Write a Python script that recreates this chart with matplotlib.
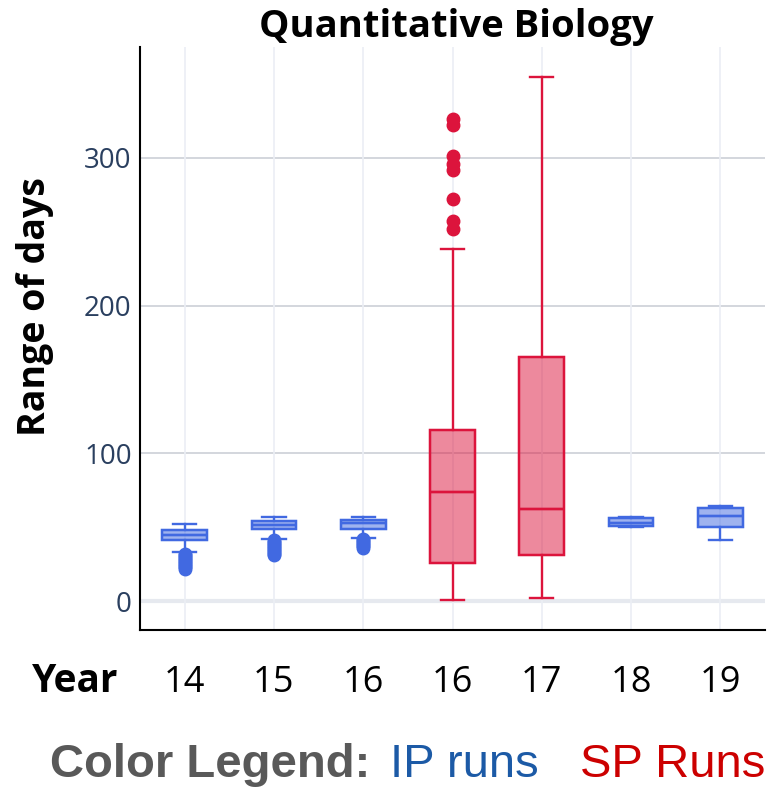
import matplotlib.pyplot as plt

# box statistics (days)
labels = ["14", "15", "16", "16", "17", "18", "19"]
run_type = ["IP", "IP", "IP", "SP", "SP", "IP", "IP"]
whislo = [33, 42, 43, 1, 2, 50, 41]
q1 = [41, 49, 49, 26, 31, 51, 50]
med = [44.7, 51.5, 52.5, 74, 62, 53, 57.5]
q3 = [48, 54, 55, 116, 165, 56, 63]
whishi = [52, 57, 57, 238, 355, 57, 64]
fliers = [
    [22, 23, 24, 25, 26, 27, 28, 29, 30, 31, 32],
    [31, 32, 33, 34, 35, 36, 37, 38, 39, 40, 41],
    [36, 37, 38, 39, 40, 41, 42],
    [252, 257, 272, 292, 296, 301, 322, 326],
    [],
    [],
    [],
]

blue = "#4169e1"
red = "#dc143c"

stats = []
for i in range(len(labels)):
    stats.append(dict(whislo=whislo[i], q1=q1[i], med=med[i], q3=q3[i],
                      whishi=whishi[i], fliers=fliers[i], label=labels[i]))

fig = plt.figure(figsize=(7.71, 7.88), dpi=100)
ax = fig.add_axes([140 / 771, 1 - 630 / 788, 625 / 771, (630 - 47) / 788])

positions = list(range(len(labels)))
for i, st in enumerate(stats):
    c = blue if run_type[i] == "IP" else red
    ax.bxp([st], positions=[positions[i]], widths=0.5, patch_artist=True,
           showfliers=True, capwidths=0.26,
           boxprops=dict(facecolor=c, alpha=0.5, edgecolor=c, linewidth=1.7),
           medianprops=dict(color=c, linewidth=1.7),
           whiskerprops=dict(color=c, linewidth=1.7),
           capprops=dict(color=c, linewidth=1.7),
           flierprops=dict(marker="o", markerfacecolor=c, markeredgecolor=c,
                           markersize=9))
    # opaque edge on top of translucent fill
    ax.bxp([st], positions=[positions[i]], widths=0.5, patch_artist=True,
           showfliers=False, showcaps=False,
           boxprops=dict(facecolor="none", edgecolor=c, linewidth=1.7),
           medianprops=dict(color=c, linewidth=1.7),
           whiskerprops=dict(linewidth=0))

ax.set_xlim(-0.5, 6.5)
ax.set_ylim(-19.6, 375)
ax.set_yticks([0, 100, 200, 300])
ax.set_xticks(positions)
ax.set_xticklabels(labels)
ax.tick_params(axis="y", length=0, pad=6, labelsize=20, labelcolor="#2a3f5f")
ax.tick_params(axis="x", length=0, pad=25, labelsize=26, labelcolor="black")
for lab in ax.get_xticklabels() + ax.get_yticklabels():
    lab.set_family("Open Sans")

ax.set_axisbelow(True)
for y in [100, 200, 300]:
    ax.axhline(y, color="#d0d3da", linewidth=1.3, zorder=0)
ax.axhline(0, color="#e6e9ef", linewidth=3, zorder=0)
for x in positions:
    ax.axvline(x, color="#ebeef5", linewidth=1.2, zorder=0)

for side in ["top", "right"]:
    ax.spines[side].set_visible(False)
ax.spines["left"].set_linewidth(1.5)
ax.spines["bottom"].set_linewidth(1.5)

fig.text(456 / 771, 1 - 37 / 788, "Quantitative Biology", fontsize=27.5,
         fontweight="bold", family="Open Sans", ha="center", va="baseline")
fig.text(35 / 771, 1 - 307 / 788, "Range of days", fontsize=27,
         fontweight="bold", family="Open Sans", rotation=90,
         ha="center", va="center")

fig.text(75 / 771, 1 - 682 / 788, "Year", fontsize=28, fontweight="bold",
         family="Open Sans", ha="center", va="center")

fig.text(50 / 771, 1 - 777 / 788, "Color Legend:", fontsize=34,
         fontweight="bold", family="Liberation Sans", color="#595959",
         ha="left", va="baseline")
fig.text(390 / 771, 1 - 777 / 788, "IP runs", fontsize=34,
         family="Liberation Sans", color="#1c5aa6", ha="left", va="baseline")
fig.text(580 / 771, 1 - 777 / 788, "SP Runs", fontsize=34,
         family="Liberation Sans", color="#cc0000", ha="left", va="baseline")

fig.savefig("out.png", dpi=100)
